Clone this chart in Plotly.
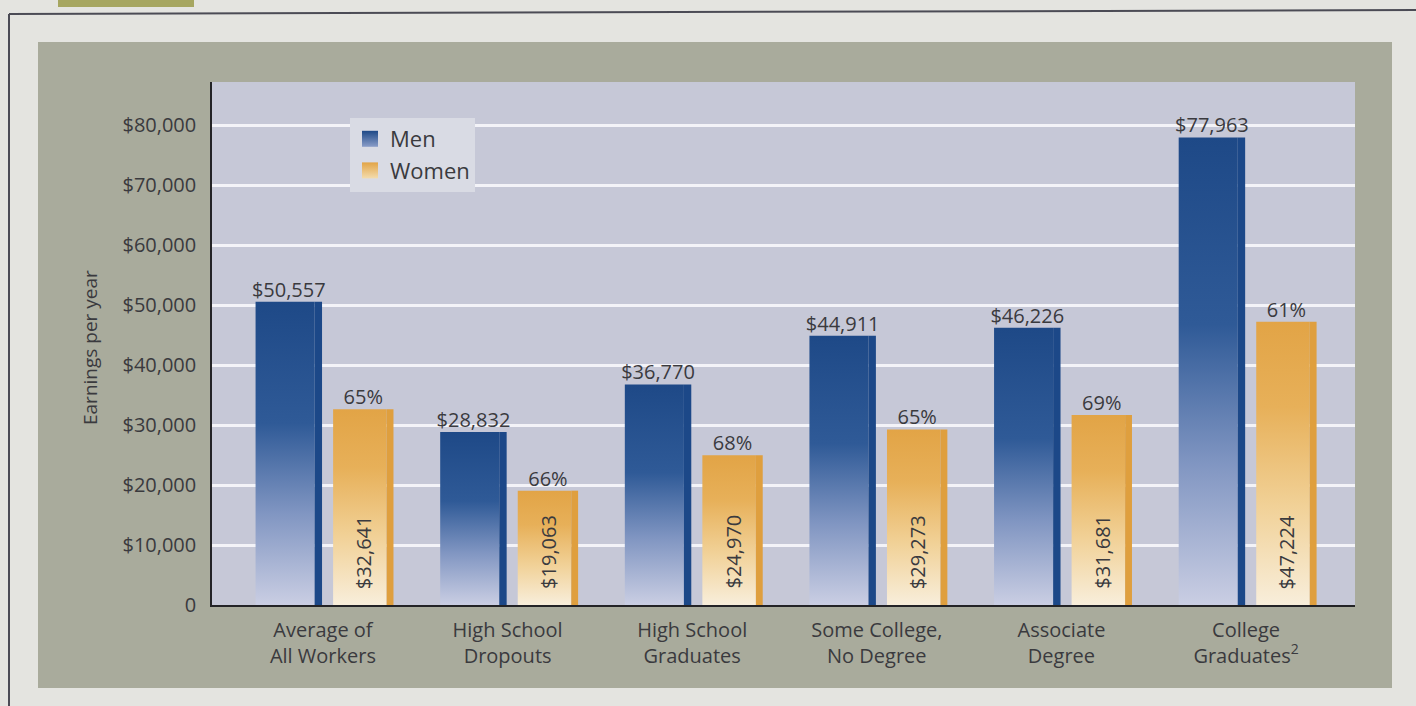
import plotly.graph_objects as go

# Median annual earnings by education level
categories = [
    "Average of<br>All Workers",
    "High School<br>Dropouts",
    "High School<br>Graduates",
    "Some College,<br>No Degree",
    "Associate<br>Degree",
    "College<br>Graduates<sup>2</sup>",
]
men = [50557, 28832, 36770, 44911, 46226, 77963]
women = [32641, 19063, 24970, 29273, 31681, 47224]
y_ticks = [0, 10000, 20000, 30000, 40000, 50000, 60000, 70000, 80000]
y_tick_labels = ["0", "$10,000", "$20,000", "$30,000", "$40,000",
                 "$50,000", "$60,000", "$70,000", "$80,000"]

# women's earnings as a share of men's
women_pct = [round(w / m * 100) for w, m in zip(women, men)]

# page geometry (pixels) used to place the decorative panel
W, H = 1416, 706
L, R, T, B = 212, 1355, 82, 605


def px(X):
    return (X - L) / (R - L)


def py(Y):
    return (B - Y) / (B - T)


# bar slots relative to each category centre (x-axis units)
MEN_BODY = (-0.365, -0.045)
MEN_EDGE = (-0.045, -0.005)
WOMEN_BODY = (0.055, 0.345)
WOMEN_EDGE = (0.345, 0.382)

MEN_SCALE = [[0, "#cacee3"], [0.3, "#8196c2"], [0.6, "#2f5a97"], [1, "#1e4987"]]
WOMEN_SCALE = [[0, "#f8eedb"], [0.35, "#f1d197"], [0.7, "#e7b059"], [1, "#e2a446"]]
TEXT = "#3a3a3e"
FONT = "Open Sans"


def rect(i, span, v):
    x0, x1 = i + span[0], i + span[1]
    return [x0, x0, x1, x1, x0], [0, v, v, 0, 0]


fig = go.Figure()

for i, (m, w) in enumerate(zip(men, women)):
    xs, ys = rect(i, MEN_BODY, m)
    fig.add_trace(go.Scatter(x=xs, y=ys, mode="lines", line=dict(width=0),
                             fill="toself",
                             fillgradient=dict(type="vertical", colorscale=MEN_SCALE),
                             showlegend=False, hoverinfo="skip"))
    xs, ys = rect(i, MEN_EDGE, m)
    fig.add_trace(go.Scatter(x=xs, y=ys, mode="lines", line=dict(width=0),
                             fill="toself", fillcolor="#1c4888",
                             showlegend=False, hoverinfo="skip"))
    xs, ys = rect(i, WOMEN_BODY, w)
    fig.add_trace(go.Scatter(x=xs, y=ys, mode="lines", line=dict(width=0),
                             fill="toself",
                             fillgradient=dict(type="vertical", colorscale=WOMEN_SCALE),
                             showlegend=False, hoverinfo="skip"))
    xs, ys = rect(i, WOMEN_EDGE, w)
    fig.add_trace(go.Scatter(x=xs, y=ys, mode="lines", line=dict(width=0),
                             fill="toself", fillcolor="#df9f3e",
                             showlegend=False, hoverinfo="skip"))

idx = list(range(len(categories)))
men_mid = [i + (MEN_BODY[0] + MEN_EDGE[1]) / 2 for i in idx]
women_mid = [i + (WOMEN_BODY[0] + WOMEN_EDGE[1]) / 2 for i in idx]

# value labels above the bars
fig.add_trace(go.Scatter(
    x=men_mid, y=men, mode="text",
    text=[f"${v:,}" for v in men], textposition="top center",
    textfont=dict(family=FONT, size=20, color=TEXT),
    showlegend=False, hoverinfo="skip"))
fig.add_trace(go.Scatter(
    x=women_mid, y=women, mode="text",
    text=[f"{p}%" for p in women_pct], textposition="top center",
    textfont=dict(family=FONT, size=20, color=TEXT),
    showlegend=False, hoverinfo="skip"))

# legend entries
fig.add_trace(go.Scatter(
    x=[None], y=[None], mode="markers", name="Men",
    marker=dict(symbol="square", size=16, color="#1e4987",
                gradient=dict(type="vertical", color="#8a9dc8"))))
fig.add_trace(go.Scatter(
    x=[None], y=[None], mode="markers", name="Women",
    marker=dict(symbol="square", size=16, color="#e2a446",
                gradient=dict(type="vertical", color="#f3dcae"))))

# women's dollar amounts written up the bars
annotations = [
    dict(x=wx, y=0, xref="x", yref="y", text=f"${v:,}", textangle=-90,
         showarrow=False, xanchor="center", yanchor="bottom", yshift=14,
         font=dict(family=FONT, size=20, color=TEXT))
    for wx, v in zip(women_mid, women)
]
annotations.append(dict(
    x=px(75), y=py(348), xref="paper", yref="paper", text="Earnings per year",
    textangle=-90, showarrow=False, font=dict(family=FONT, size=19, color=TEXT)))

shapes = [
    # grey-green panel behind the chart
    dict(type="rect", xref="paper", yref="paper", x0=px(38), x1=px(1392),
         y0=py(688), y1=py(42), fillcolor="#a9ab9c", line=dict(width=0), layer="below"),
    # plotting area
    dict(type="rect", xref="paper", yref="paper", x0=0, x1=1, y0=0, y1=1,
         fillcolor="#c6c8d7", line=dict(width=0), layer="below"),
    # page frame
    dict(type="line", xref="paper", yref="paper", x0=px(9), x1=px(1416),
         y0=py(14), y1=py(10), line=dict(color="#4b4b55", width=2)),
    dict(type="line", xref="paper", yref="paper", x0=px(9), x1=px(9),
         y0=py(14), y1=py(706), line=dict(color="#4b4b55", width=2)),
    dict(type="rect", xref="paper", yref="paper", x0=px(58), x1=px(194),
         y0=py(7), y1=py(-2), fillcolor="#a6a660", line=dict(width=0)),
]

fig.update_layout(
    width=W, height=H,
    margin=dict(l=L, r=W - R, t=T, b=H - B),
    paper_bgcolor="#e4e4e0",
    plot_bgcolor="rgba(0,0,0,0)",
    font=dict(family=FONT, color=TEXT),
    showlegend=True,
    legend=dict(x=px(350), y=py(118), xanchor="left", yanchor="top",
                bgcolor="#d9dbe4", borderwidth=0,
                font=dict(family=FONT, size=22, color=TEXT),
                itemwidth=30, tracegroupgap=0),
    xaxis=dict(range=[-0.601, 5.59], tickvals=idx, ticktext=categories,
               showgrid=False, zeroline=False, showline=True,
               linecolor="#232326", linewidth=1.5, ticks="",
               ticklabelstandoff=6,
               tickfont=dict(family=FONT, size=20, color=TEXT)),
    yaxis=dict(range=[0, 87200], tickvals=y_ticks, ticktext=y_tick_labels,
               showgrid=True, gridcolor="rgba(246,246,250,0.95)", gridwidth=3,
               zeroline=False, showline=True, linecolor="#232326", linewidth=1.5,
               ticks="", ticklabelstandoff=10,
               tickfont=dict(family=FONT, size=20, color=TEXT)),
    annotations=annotations,
    shapes=shapes,
)

fig.write_html("out.html")
